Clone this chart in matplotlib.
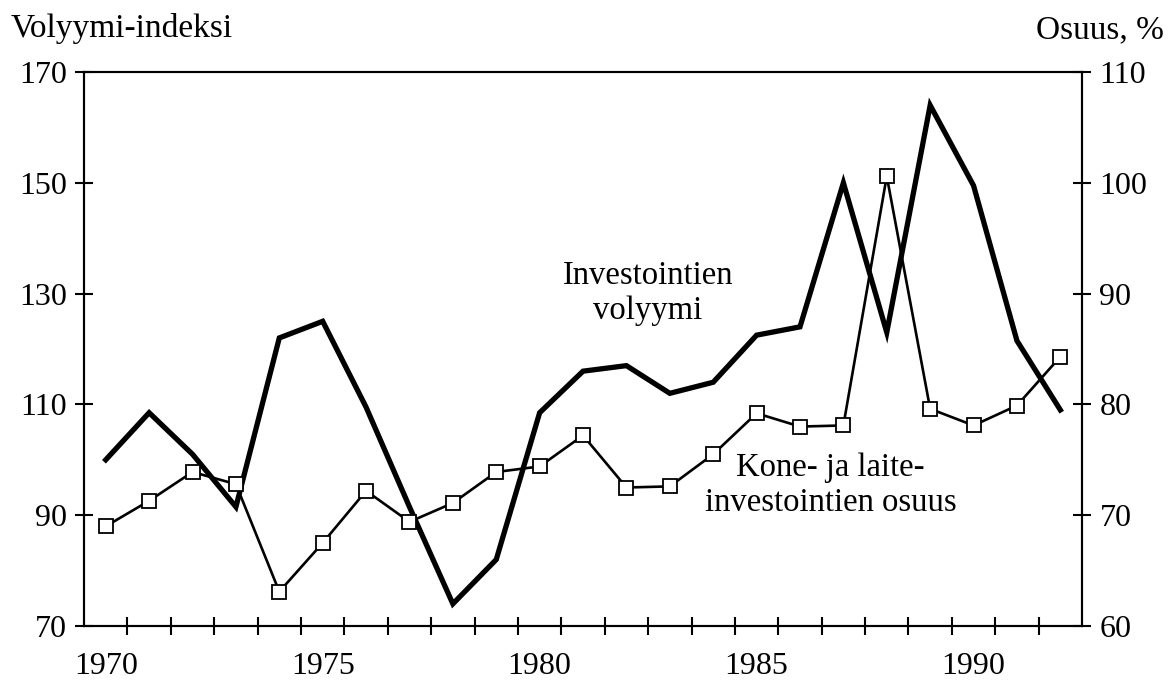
import matplotlib.pyplot as plt
import numpy as np

plt.rcParams['font.family'] = ['Liberation Serif', 'DejaVu Serif']

# vuodet
years = list(range(1970, 1993))
# investointien volyymi-indeksi (vasen akseli)
volume = [100, 108.5, 101, 91.5, 122, 125, 109.5, 91.5, 74, 82, 108.5, 116, 117,
          112, 114, 122.5, 124, 150, 123, 164, 149.5, 121.5, 109]
# kone- ja laiteinvestointien osuus, % (oikea akseli)
share = [69, 71.3, 73.9, 72.8, 63.1, 67.5, 72.2, 69.4, 71.1, 73.9, 74.4, 77.2, 72.5,
         72.6, 75.5, 79.2, 78, 78.1, 100.6, 79.6, 78.1, 79.9, 84.3]
left_ticks = [70, 90, 110, 130, 150, 170]
right_ticks = [60, 70, 80, 90, 100, 110]
year_labels = [1970, 1975, 1980, 1985, 1990]

fig = plt.figure(figsize=(11.69, 6.84), dpi=100)
ax = fig.add_axes([0.0719, 0.0848, 0.8537, 0.8099])
ax2 = ax.twinx()

ax.plot(years, volume, color='black', lw=3.8, solid_joinstyle='miter', zorder=3)
ax2.plot(years, share, color='black', lw=1.9, marker='s', ms=10,
         mfc='white', mec='black', mew=1.3, zorder=4)

ax.set_xlim(1969.5, 1992.5)
ax.set_ylim(70, 170)
ax2.set_ylim(60, 110)
ax.set_yticks(left_ticks)
ax2.set_yticks(right_ticks)
ax.set_xticks(year_labels)
ax.set_xticks(np.arange(1970.5, 1992, 1), minor=True)

fs = 23
ax.tick_params(axis='x', which='major', length=0, labelsize=fs, pad=19)
ax.tick_params(axis='x', which='minor', direction='inout', length=13, width=1.5)
ax.tick_params(axis='y', direction='inout', length=13, width=1.5, labelsize=fs, pad=6)
ax2.tick_params(axis='y', direction='inout', length=13, width=1.5, labelsize=fs, pad=6)

for a in (ax, ax2):
    for s in a.spines.values():
        s.set_linewidth(1.5)

fig.text(0.009, 0.958, 'Volyymi-indeksi', fontsize=24, ha='left', va='center')
fig.text(0.996, 0.956, 'Osuus, %', fontsize=24, ha='right', va='center')

ax.text(1982.5, 130.1, 'Investointien\nvolyymi', fontsize=23.5, ha='center', va='center',
        linespacing=1.2)
ax2.text(1986.7, 72.7, 'Kone- ja laite-\ninvestointien osuus', fontsize=23.5,
         ha='center', va='center', linespacing=1.2)

fig.savefig('out.png', dpi=100)
